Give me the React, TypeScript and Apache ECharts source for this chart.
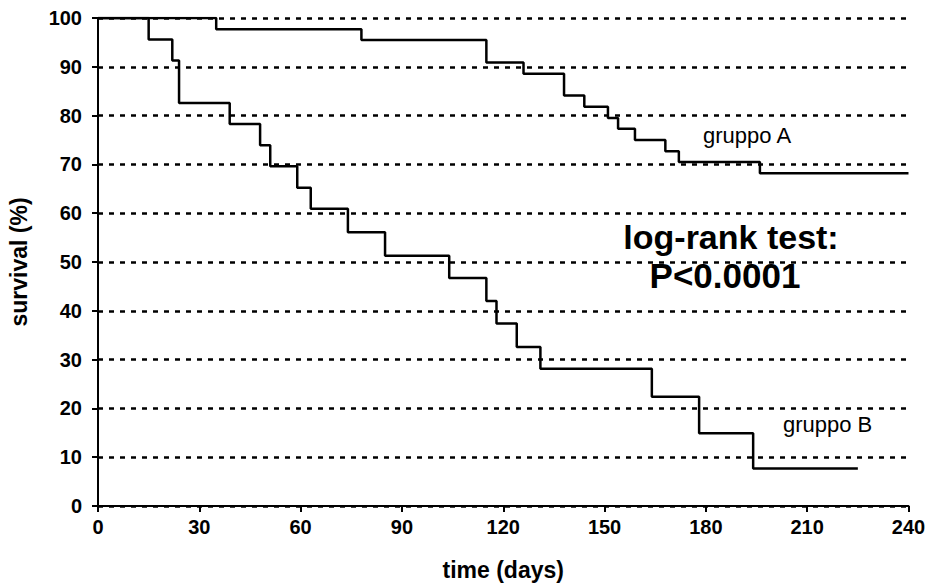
import React, { useEffect, useRef } from "react";
import * as echarts from "echarts";

const timesA = [0, 35, 78, 115, 126, 138, 144, 151, 154, 159, 168, 172, 196, 240];
const survA = [100, 97.7, 95.5, 90.9, 88.6, 84.1, 81.8, 79.5, 77.3, 75.0, 72.7, 70.5, 68.2, 68.2];
const timesB = [0, 15, 22, 24, 39, 48, 51, 59, 63, 74, 85, 104, 115, 118, 124, 131, 164, 178, 194, 225];
const survB = [100, 95.6, 91.3, 82.6, 78.3, 73.9, 69.6, 65.2, 60.9, 56.1, 51.3, 46.7, 42.0, 37.4, 32.6, 28.1, 22.4, 14.9, 7.7, 7.7];
const groupLabels = ["gruppo A", "gruppo B"];
const testLines = ["log-rank test:", "P<0.0001"];

const FONT = "'Liberation Sans', Arial, Helvetica, sans-serif";

export default function App() {
  const ref = useRef<HTMLDivElement>(null);
  useEffect(() => {
    if (!ref.current) return;
    const chart = echarts.init(ref.current, undefined, { renderer: "svg" });
    const pairs = (t: number[], s: number[]) => t.map((x, i) => [x, s[i]]);
    chart.setOption({
      animation: false,
      backgroundColor: "#ffffff",
      grid: { left: 98, right: 22.5, top: 18, bottom: 77, containLabel: false, outerBoundsMode: "none" },
      xAxis: {
        type: "value",
        min: 0,
        max: 240,
        interval: 30,
        name: "time (days)",
        nameLocation: "middle",
        nameGap: 52,
        nameTextStyle: { fontFamily: FONT, fontWeight: "bold", fontSize: 23, color: "#000" },
        axisLine: { show: true, lineStyle: { color: "#000", width: 2 } },
        axisTick: { show: true, inside: false, length: 6, lineStyle: { color: "#000", width: 2 } },
        axisLabel: { fontFamily: FONT, fontWeight: "bold", fontSize: 20, color: "#000", margin: 11 },
        splitLine: { show: false },
      },
      yAxis: {
        type: "value",
        min: 0,
        max: 100,
        interval: 10,
        name: "survival (%)",
        nameLocation: "middle",
        nameGap: 68,
        nameRotate: 90,
        nameTextStyle: { fontFamily: FONT, fontWeight: "bold", fontSize: 23, color: "#000" },
        axisLine: { show: true, lineStyle: { color: "#000", width: 2 } },
        axisTick: { show: true, inside: false, length: 6, lineStyle: { color: "#000", width: 2 } },
        axisLabel: { fontFamily: FONT, fontWeight: "bold", fontSize: 20, color: "#000", margin: 16 },
        splitLine: { show: true, lineStyle: { color: "#000", width: 2.5, type: [5, 6] } },
      },
      series: [
        {
          type: "line",
          step: "end",
          data: pairs(timesA, survA),
          symbol: "none",
          lineStyle: { color: "#000", width: 2.5 },
          z: 5,
        },
        {
          type: "line",
          step: "end",
          data: pairs(timesB, survB),
          symbol: "none",
          lineStyle: { color: "#000", width: 2.5 },
          z: 5,
        },
      ],
      graphic: [
        {
          type: "text",
          x: 703,
          y: 135,
          style: { text: groupLabels[0], fontFamily: FONT, fontSize: 22, fill: "#000", textVerticalAlign: "middle" },
        },
        {
          type: "text",
          x: 783,
          y: 424,
          style: { text: groupLabels[1], fontFamily: FONT, fontSize: 22, fill: "#000", textVerticalAlign: "middle" },
        },
        {
          type: "text",
          x: 731,
          y: 237,
          style: {
            text: testLines[0],
            fontFamily: FONT,
            fontSize: 34,
            fontWeight: "bold",
            fill: "#000",
            textAlign: "center",
            textVerticalAlign: "middle",
          },
        },
        {
          type: "text",
          x: 725,
          y: 275,
          style: {
            text: testLines[1],
            fontFamily: FONT,
            fontSize: 35,
            fontWeight: "bold",
            fill: "#000",
            textAlign: "center",
            textVerticalAlign: "middle",
          },
        },
      ],
    });
    return () => chart.dispose();
  }, []);
  return (
    <div
      ref={ref}
      style={{ position: "absolute", left: 0, top: 0, width: 931, height: 583 }}
    />
  );
}
